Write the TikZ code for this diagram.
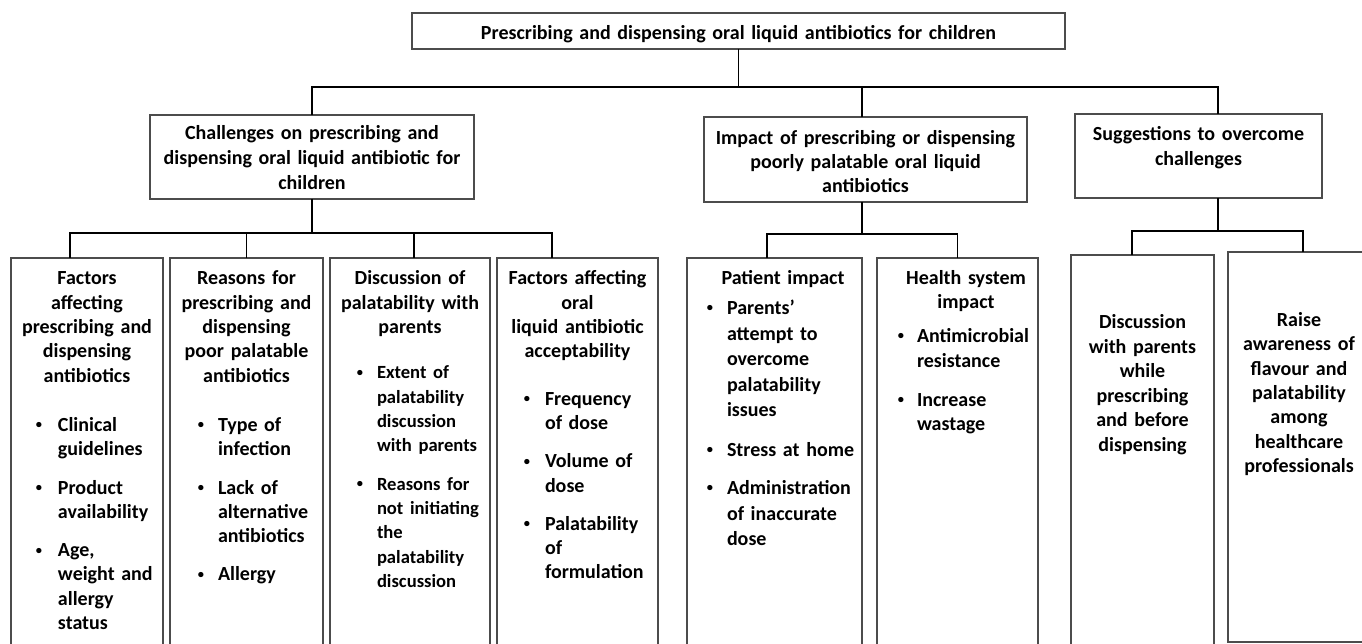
\documentclass[tikz,border=0pt]{standalone}
\usepackage{fontspec}
\setmainfont{Carlito}
\newlength\bulx
\newlength\txtx
\lineskiplimit=-60pt\relax
\newcommand\lnC[1]{\par\hbox to\hsize{\hfil#1\hfil}}
\newcommand\lnS[1]{\par\hbox to\hsize{\hskip17pt\hfil#1\hfil}}
\newcommand\blt{\raisebox{2.6pt}{\scalebox{0.62}{•}}}
\newcommand\lnB[1]{\par\hbox to\hsize{\hskip\bulx\makebox[0pt]{\blt}\hskip\dimexpr\txtx-\bulx\relax #1\hfil}}
\newcommand\lnT[1]{\par\hbox to\hsize{\hskip\txtx #1\hfil}}
\newcommand\gp[1]{\par\vskip#1pt\relax}
\newcommand\smf{\fontsize{18.6}{24.3}\selectfont}
\begin{document}
\begin{tikzpicture}[x=1pt,y=-1pt,
  box/.style={draw=black!70, line width=1.1pt, inner sep=0pt, outer sep=0pt, anchor=north west},
  conn/.style={draw=black, line width=1.9pt},
  txt/.style={inner sep=0pt, outer sep=0pt, anchor=north west,
    font=\bfseries\fontsize{20}{24.3}\selectfont},
  txtb/.style={txt, font=\bfseries\fontsize{20}{24.5}\selectfont},
  txtc/.style={txt, font=\bfseries\fontsize{20}{25}\selectfont},
  txtd/.style={txt, font=\bfseries\fontsize{20}{24}\selectfont},
  txte/.style={txt, font=\bfseries\fontsize{20}{25.5}\selectfont}]
\useasboundingbox (0,0) rectangle (1362,644);
\clip (0,0) rectangle (1362,644);
\fill[white] (0,0) rectangle (1362,644);

% level 1
\node[box, minimum width=653, minimum height=36] (top) at (412,13) {};
\node[txt, text width=653pt] (topt) at (412,15.5) {\lnC{Prescribing and dispensing oral liquid antibiotics for children}};

% level 2
\node[box, minimum width=324, minimum height=84] (chal) at (150,115) {};
\node[txtc, text width=324pt] (chalt) at (150,115)
  {\lnC{Challenges on prescribing and}\lnC{dispensing oral liquid antibiotic for}\lnC{children}};

\node[box, minimum width=323, minimum height=85] (imp) at (704,117) {};
\node[txtd, text width=323pt] (impt) at (704,121)
  {\lnC{Impact of prescribing or dispensing}\lnC{poorly palatable oral liquid}\lnC{antibiotics}};

\node[box, minimum width=247, minimum height=84] (sug) at (1075,114) {};
\node[txtb, text width=247pt] (sugt) at (1075,116.5)
  {\lnC{Suggestions to overcome}\lnC{challenges}};

% level 3 boxes
\node[box, minimum width=152, minimum height=402] (b1) at (11,258) {};
\node[txt, text width=152pt] (b1t) at (11,260.7) {\setlength\bulx{28pt}\setlength\txtx{47pt}%
  \lnC{Factors}\lnC{affecting}\lnC{prescribing and}\lnC{dispensing}\lnC{antibiotics}%
  \gp{25}\lnB{Clinical}\lnT{guidelines}%
  \gp{14}\lnB{Product}\lnT{availability}%
  \gp{14}\lnB{Age,}\lnT{weight and}\lnT{allergy}\lnT{status}};

\node[box, minimum width=153, minimum height=402] (b2) at (170,258) {};
\node[txt, text width=153pt] (b2t) at (170,260.7) {\setlength\bulx{31pt}\setlength\txtx{48pt}%
  \lnC{Reasons for}\lnC{prescribing and}\lnC{dispensing}\lnC{poor palatable}\lnC{antibiotics}%
  \gp{25}\lnB{Type of}\lnT{infection}%
  \gp{14}\lnB{Lack of}\lnT{alternative}\lnT{antibiotics}%
  \gp{14}\lnB{Allergy}};

\node[box, minimum width=160, minimum height=402] (b3) at (330,258) {};
\node[txt, text width=160pt] (b3t) at (330,260.7) {\setlength\bulx{30pt}\setlength\txtx{47pt}%
  \lnC{Discussion of}\lnC{palatability with}\lnC{parents}%
  \gp{21}\lnB{\smf Extent of}\lnT{\smf palatability}\lnT{\smf discussion}\lnT{\smf with parents}%
  \gp{14}\lnB{\smf Reasons for}\lnT{\smf not initiating}\lnT{\smf the}\lnT{\smf palatability}\lnT{\smf discussion}};

\node[box, minimum width=161, minimum height=402] (b4) at (497,258) {};
\node[txt, text width=161pt] (b4t) at (497,260.7) {\setlength\bulx{30pt}\setlength\txtx{48pt}%
  \lnC{Factors affecting}\lnC{oral}\lnC{liquid antibiotic}\lnC{acceptability}%
  \gp{23}\lnB{Frequency}\lnT{of dose}%
  \gp{14}\lnB{Volume of}\lnT{dose}%
  \gp{14}\lnB{Palatability}\lnT{of}\lnT{formulation}};

\node[box, minimum width=175, minimum height=402] (pat) at (687,258) {};
\node[txte, text width=175pt] (patt) at (687,258.5)
  {\setlength\bulx{23pt}\setlength\txtx{40pt}%
  \lnS{Patient impact}%
  \gp{5}\lnB{Parents’}\lnT{attempt to}\lnT{overcome}\lnT{palatability}\lnT{issues}%
  \gp{14.5}\lnB{Stress at home}%
  \gp{12.5}\lnB{Administration}\lnT{of inaccurate}\lnT{dose}};

\node[box, minimum width=161, minimum height=402] (hs) at (877,258) {};
\node[txtc, text width=161pt] (hst) at (877,259)
  {\setlength\bulx{24pt}\setlength\txtx{40pt}%
  \lnS{Health system}\lnS{impact}%
  \gp{8}\lnB{Antimicrobial}\lnT{resistance}%
  \gp{14}\lnB{Increase}\lnT{wastage}};

\node[box, minimum width=143, minimum height=405] (s1) at (1071,255) {};
\node[txtb, text width=143pt] (s1t) at (1071,304.5)
  {\lnC{Discussion}\lnC{with parents}\lnC{while}\lnC{prescribing}\lnC{and before}\lnC{dispensing}};

\node[box, minimum width=142, minimum height=390] (s2) at (1228,252) {};
\node[txt, text width=142pt] (s2t) at (1228,302.2)
  {\lnC{Raise}\lnC{awareness of}\lnC{flavour and}\lnC{palatability}\lnC{among}\lnC{healthcare}\lnC{professionals}};

% connectors
\coordinate (j0) at (738.5,87);
\draw[conn] (top.south) -- (j0);
\draw[conn] (j0) -| (chal.north);
\draw[conn] (j0) -| ([xshift=-3.5]imp.north);
\draw[conn] (j0) -| ([xshift=19.5]sug.north);

\coordinate (j1) at (312,233);
\draw[conn] (chal.south) -- (j1);
\draw[conn] (j1) -| ([xshift=-17]b1.north);
\draw[conn] (j1) -| (b2.north);
\draw[conn] (j1) -| ([xshift=4]b3.north);
\draw[conn] (j1) -| ([xshift=-25.5]b4.north);

\coordinate (j2) at (862,234);
\draw[conn] ([xshift=-3.5]imp.south) -- (j2);
\draw[conn] (j2) -| ([xshift=-7.5]pat.north);
\draw[conn] (j2) -| (hs.north);

\coordinate (j3) at (1218,231);
\draw[conn] ([xshift=19.5]sug.south) -- (j3);
\draw[conn] (j3) -| ([xshift=-10.5]s1.north);
\draw[conn] (j3) -| ([xshift=4]s2.north);
\end{tikzpicture}
\end{document}
